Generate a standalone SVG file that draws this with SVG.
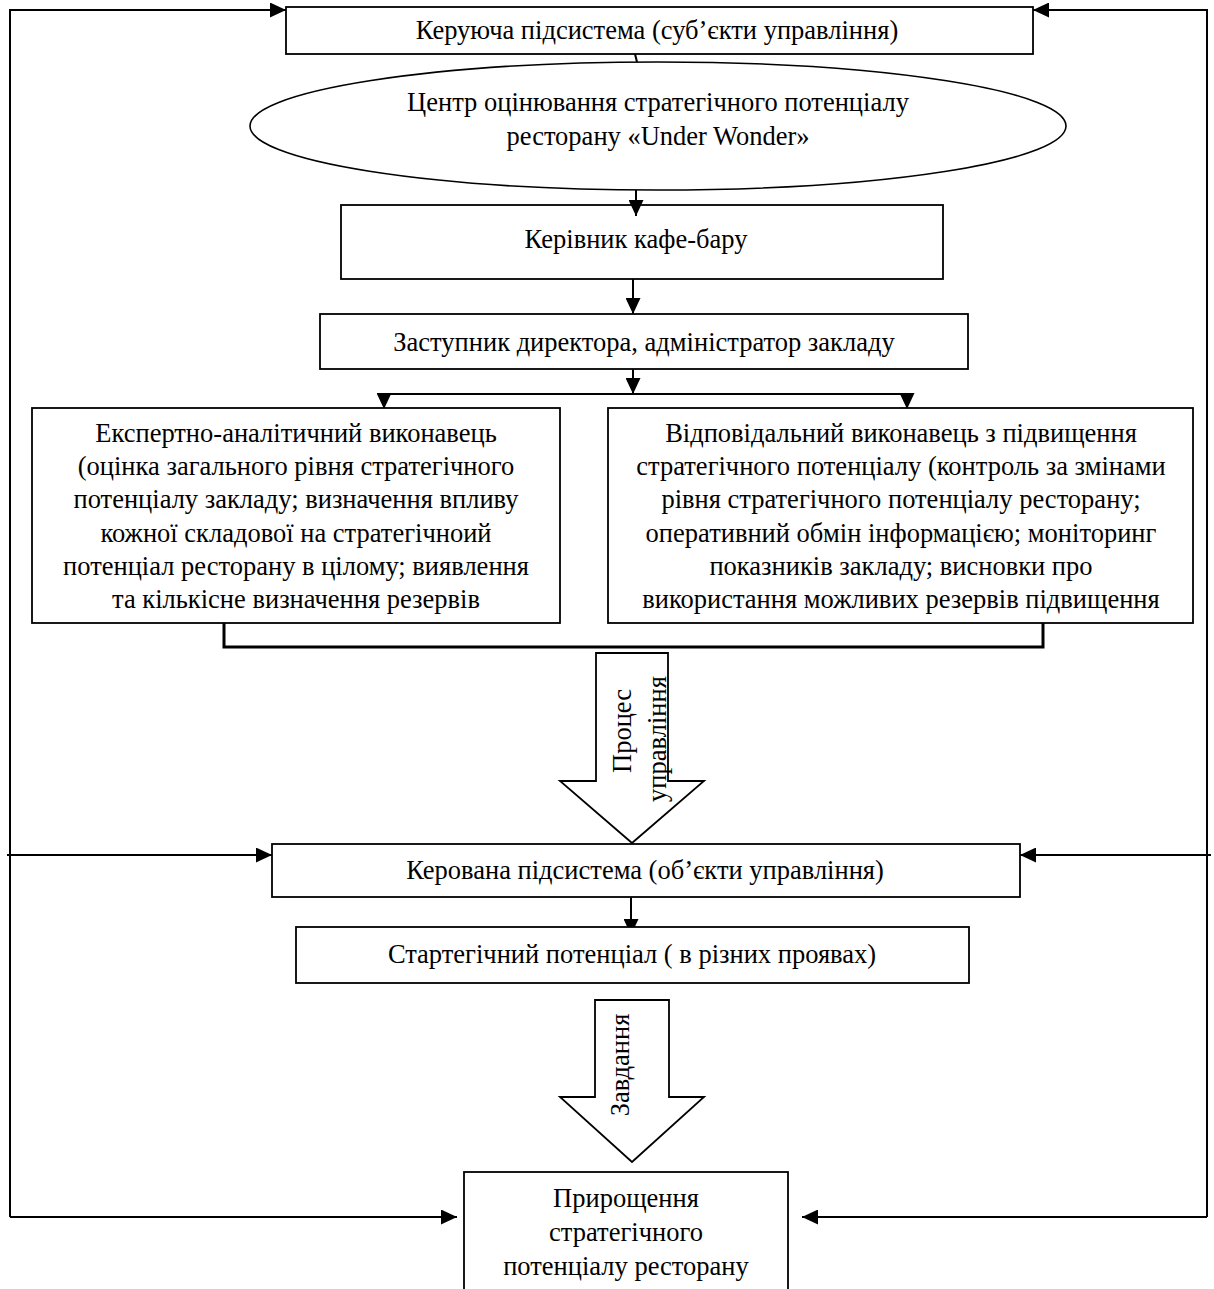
<svg xmlns="http://www.w3.org/2000/svg" width="1214" height="1289" viewBox="0 0 1214 1289">
<style>
.box{fill:#fff;stroke:#000;stroke-width:1.8}
.ln{fill:none;stroke:#000;stroke-width:2}
.thick{fill:none;stroke:#000;stroke-width:3}
text{font-family:"Liberation Serif","Times New Roman",serif;font-size:26.5px;fill:#000;text-anchor:middle}
</style>
<defs>
<marker id="ah" markerUnits="userSpaceOnUse" markerWidth="17" markerHeight="15" refX="16" refY="7.5" orient="auto">
<path d="M0,0 L16,7.5 L0,15 Z" fill="#000"/>
</marker>
</defs>
<rect width="1214" height="1289" fill="#fff"/>
<g id="connectors">
<path class="ln" d="M10,1217 V10 H286" marker-end="url(#ah)"/>
<path class="ln" d="M10,1217 H457" marker-end="url(#ah)"/>
<path class="ln" d="M7,855 H272" marker-end="url(#ah)"/>
<path class="ln" d="M1207,1217 V10 H1033" marker-end="url(#ah)"/>
<path class="ln" d="M1207,1217 H802" marker-end="url(#ah)"/>
<path class="ln" d="M1211,855 H1020" marker-end="url(#ah)"/>
<path class="ln" d="M635,54 L637,62"/>
<path class="ln" d="M636,190 V216" marker-end="url(#ah)"/>
<path class="ln" d="M633,279 V314" marker-end="url(#ah)"/>
<path class="ln" d="M633,369 V394" marker-end="url(#ah)"/>
<path class="ln" d="M384,394 H907"/>
<path class="ln" d="M384,394 V409" marker-end="url(#ah)"/>
<path class="ln" d="M907,394 V409" marker-end="url(#ah)"/>
<path class="thick" d="M224,623 V647 H1043 V623"/>
<path class="ln" d="M631,886 V935" marker-end="url(#ah)"/>
</g>
<g id="n-top"><rect class="box" x="286" y="7" width="747" height="47"/><text x="657" y="39">Керуюча підсистема (суб’єкти управління)</text></g>
<g id="n-center"><ellipse class="box" cx="658" cy="126" rx="408" ry="64" style="stroke-width:1.6"/><text x="658" y="111">Центр оцінювання стратегічного потенціалу</text><text x="658" y="145">ресторану «Under Wonder»</text></g>
<g id="n-head"><rect class="box" x="341" y="205" width="602" height="74" style="fill:none"/><text x="636" y="248">Керівник кафе-бару</text></g>
<g id="n-deputy"><rect class="box" x="320" y="314" width="648" height="55"/><text x="644" y="351">Заступник директора, адміністратор закладу</text></g>
<g id="n-expert"><rect class="box" x="32" y="408" width="528" height="215"/>
<text x="296" y="442">Експертно-аналітичний виконавець</text>
<text x="296" y="475">(оцінка загального рівня стратегічного</text>
<text x="296" y="508">потенціалу закладу; визначення впливу</text>
<text x="296" y="542">кожної складової на стратегічноий</text>
<text x="296" y="575">потенціал ресторану в цілому; виявлення</text>
<text x="296" y="608">та кількісне визначення резервів</text></g>
<g id="n-resp"><rect class="box" x="608" y="408" width="585" height="215"/>
<text x="901" y="442">Відповідальний виконавець з підвищення</text>
<text x="901" y="475">стратегічного потенціалу (контроль за змінами</text>
<text x="901" y="508">рівня стратегічного потенціалу ресторану;</text>
<text x="901" y="542">оперативний обмін інформацією; моніторинг</text>
<text x="901" y="575">показників закладу; висновки про</text>
<text x="901" y="608">використання можливих резервів підвищення</text></g>
<g id="n-process"><path class="box" d="M596,653 H668 V781 H704 L632,843 L560,781 H596 Z"/>
<text transform="translate(631,731) rotate(-90)">Процес</text>
<text transform="translate(666,739) rotate(-90)">управління</text></g>
<g id="n-managed"><rect class="box" x="272" y="844" width="748" height="53"/><text x="645" y="879">Керована підсистема (об’єкти управління)</text></g>
<g id="n-potential"><rect class="box" x="296" y="927" width="673" height="56"/><text x="632" y="963">Стартегічний потенціал ( в різних проявах)</text></g>
<g id="n-task"><path class="box" d="M595,1000 H669 V1097 H704 L632,1162 L560,1097 H595 Z"/>
<text transform="translate(629,1065) rotate(-90)">Завдання</text></g>
<g id="n-growth"><rect class="box" x="464" y="1172" width="324" height="130"/>
<text x="626" y="1207">Прирощення</text>
<text x="626" y="1241">стратегічного</text>
<text x="626" y="1275">потенціалу ресторану</text></g>
</svg>
